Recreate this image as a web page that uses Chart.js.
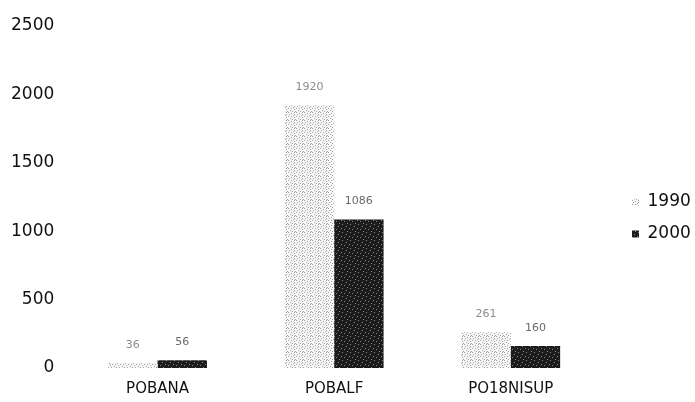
<!DOCTYPE html>
<html>
<head>
<meta charset="utf-8">
<script src="https://cdn.jsdelivr.net/npm/chart.js@4/dist/chart.umd.min.js"></script>
<style>
  html, body { margin: 0; padding: 0; background: #fff; }
</style>
</head>
<body>
<canvas id="chart_1" width="695" height="402"></canvas>
<script>
var categories = ["POBANA", "POBALF", "PO18NISUP"];
var values1990 = [36, 1920, 261];
var values2000 = [56, 1086, 160];
var seriesNames = ["1990", "2000"];

var FONT = "'DejaVu Sans', sans-serif";

// speckle textures like the scanned original
function makePattern(bg, dot, rows) {
  var c = document.createElement("canvas");
  c.width = rows[0].length;
  c.height = rows.length;
  var g = c.getContext("2d");
  g.fillStyle = bg;
  g.fillRect(0, 0, c.width, c.height);
  g.fillStyle = dot;
  for (var y = 0; y < rows.length; y++) {
    for (var x = 0; x < rows[y].length; x++) {
      if (rows[y][x] === "x") g.fillRect(x, y, 1, 1);
    }
  }
  return g.createPattern(c, "repeat");
}
var lightFill = makePattern("#f7f7f7", "#a0a0a0", [
  "x.....x.",
  "...x....",
  ".x....x.",
  ".....x..",
  "x..x....",
  "......x.",
  "..x.....",
  "....x..x"
]);
var darkFill = makePattern("#1c1c1c", "#8a8a8a", [
  "......x.",
  "........",
  "..x.....",
  "........",
  ".....x..",
  "x.......",
  "........",
  "...x...."
]);

var barLabels = {
  id: "barLabels",
  afterDatasetsDraw: function (chart) {
    var ctx = chart.ctx;
    ctx.save();
    ctx.font = "11px " + FONT;
    ctx.textAlign = "center";
    ctx.textBaseline = "middle";
    chart.data.datasets.forEach(function (ds, i) {
      var meta = chart.getDatasetMeta(i);
      ctx.fillStyle = i === 0 ? "#8c8c8c" : "#6a6a6a";
      meta.data.forEach(function (bar, j) {
        ctx.fillText(ds.data[j], bar.x, bar.y - 18);
      });
    });
    ctx.restore();
  }
};

// legend sits to the right, items pushed towards the edge
var legendPlace = {
  id: "legendPlace",
  afterInit: function (chart) {
    var leg = chart.legend;
    var fit = leg.fit;
    leg.fit = function () {
      fit.call(this);
      this.width = 96;
    };
  },
  afterLayout: function (chart) {
    var leg = chart.legend;
    leg.left = 617;
    leg.top += 4;
    leg.bottom += 4;
  }
};

new Chart("chart_1", {
  type: "bar",
  data: {
    labels: categories,
    datasets: [
      { label: seriesNames[0], data: values1990, backgroundColor: lightFill, borderWidth: 0 },
      { label: seriesNames[1], data: values2000, backgroundColor: darkFill, borderWidth: 0 }
    ]
  },
  options: {
    responsive: false,
    animation: false,
    layout: { padding: { top: 26, left: 4, right: 0, bottom: 0 } },
    datasets: { bar: { barPercentage: 1.0, categoryPercentage: 0.56 } },
    scales: {
      x: {
        grid: { display: false },
        border: { display: false },
        ticks: { color: "#111", font: { size: 15, family: FONT }, padding: 4 }
      },
      y: {
        min: 0,
        max: 2500,
        grid: { display: false },
        border: { display: false },
        ticks: {
          stepSize: 500,
          color: "#111",
          padding: 7,
          font: { size: 17, family: FONT },
          callback: function (v) { return String(v); }
        }
      }
    },
    plugins: {
      legend: {
        position: "right",
        labels: {
          boxWidth: 7,
          boxHeight: 7,
          padding: 15,
          color: "#111",
          font: { size: 17, family: FONT }
        }
      },
      tooltip: { enabled: false }
    }
  },
  plugins: [barLabels, legendPlace]
});
</script>
</body>
</html>
